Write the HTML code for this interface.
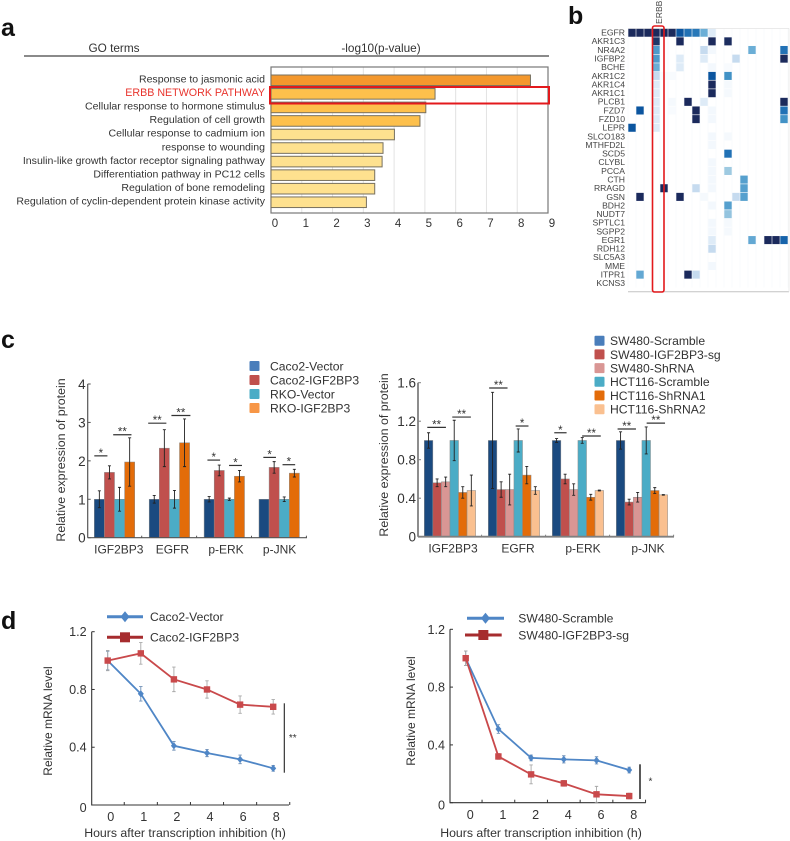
<!DOCTYPE html>
<html lang="en">
<head>
<meta charset="utf-8">
<title>Figure panels</title>
<style>
html,body{margin:0;padding:0;background:#fff;}
#figure{display:block;width:790px;height:841px;font-family:"Liberation Sans",sans-serif;filter:blur(.3px);}
text{font-family:"Liberation Sans",sans-serif;}
</style>
</head>
<body>
<svg id="figure" xmlns="http://www.w3.org/2000/svg" width="790" height="841" viewBox="0 0 790 841">
  <text x="1" y="36" font-size="25" font-weight="bold" fill="#111">a</text>
  <text x="568" y="24" font-size="25" font-weight="bold" fill="#111">b</text>
  <text x="1" y="348" font-size="25" font-weight="bold" fill="#111">c</text>
  <text x="1" y="629" font-size="25" font-weight="bold" fill="#111">d</text>

  <g id="panelA">
    <text x="114" y="52" font-size="11.8" text-anchor="middle" fill="#333">GO terms</text>
    <text x="381" y="52" font-size="11.8" text-anchor="middle" fill="#333">-log10(p-value)</text>
    <line x1="24" y1="56" x2="549" y2="56" stroke="#444" stroke-width="1.2"/>
  </g>
  <g id="panelB"></g>
  <g id="panelCLeft"></g>
  <g id="panelCRight"></g>
  <g id="panelDLeft"></g>
  <g id="panelDRight"></g>
</svg>

<script>
/* ---------- Panel a data ---------- */
const goTerms = ["Response to jasmonic acid","ERBB NETWORK PATHWAY","Cellular response to hormone stimulus","Regulation of cell growth","Cellular response to cadmium ion","response to wounding","Insulin-like growth factor receptor signaling pathway","Differentiation pathway in PC12 cells","Regulation of bone remodeling","Regulation of cyclin-dependent protein kinase activity"];
const goValues = [8.43,5.33,5.03,4.84,4.01,3.64,3.61,3.37,3.37,3.10];
const goTicks = [0,1,2,3,4,5,6,7,8,9];

/* ---------- Panel b data ---------- */
const heatGenes = ["EGFR","AKR1C3","NR4A2","IGFBP2","BCHE","AKR1C2","AKR1C4","AKR1C1","PLCB1","FZD7","FZD10","LEPR","SLCO183","MTHFD2L","SCD5","CLYBL","PCCA","CTH","RRAGD","GSN","BDH2","NUDT7","SPTLC1","SGPP2","EGR1","RDH12","SLC5A3","MME","ITPR1","KCNS3"];
const heatValues = [
 [1,1,1,1,1,1,.8,.7,.68,.5,.15,0,0,0,0,0,0,0,0,0],
 [0,0,0,.92,0,0,1,0,0,0,1,0,.98,0,0,0,0,0,0,0],
 [0,0,0,.57,0,0,0,0,0,.25,.05,0,0,0,0,.5,0,0,0,.7],
 [0,0,0,.57,0,0,.15,0,0,.15,0,0,0,.25,0,0,0,0,0,1],
 [0,0,0,.5,0,0,.15,0,0,0,.05,0,.03,0,0,0,0,0,0,0],
 [0,0,0,.25,.03,.03,0,0,0,0,.8,0,.6,0,0,0,0,0,0,0],
 [0,0,0,.15,0,0,0,0,0,0,1,0,.04,0,0,0,0,0,0,0],
 [0,0,0,.15,0,0,0,0,0,0,1,0,.04,0,0,0,0,0,0,0],
 [0,0,0,.15,0,.04,0,1,0,.15,0,0,0,0,0,0,0,0,0,1],
 [0,.8,0,.15,0,.03,0,0,1,0,.05,0,0,0,0,0,0,0,0,.7],
 [0,0,0,.15,0,0,0,0,1,0,.05,0,0,0,0,0,0,0,0,.6],
 [.8,0,0,.15,0,0,0,0,0,0,0,0,0,0,0,0,0,0,0,0],
 [0,0,0,0,0,0,0,0,0,0,.05,0,.04,0,0,0,0,0,0,0],
 [0,0,0,0,0,0,0,0,0,0,.05,0,0,0,0,0,0,0,0,0],
 [0,0,0,0,0,0,0,0,0,0,0,0,.7,0,0,0,0,0,0,0],
 [0,0,0,0,0,0,0,0,0,0,.05,0,0,0,0,0,0,0,0,0],
 [0,0,0,0,0,0,0,0,0,0,.05,0,.4,0,0,0,0,0,0,0],
 [0,0,0,0,0,0,0,0,0,0,.05,0,0,0,.55,0,0,0,0,0],
 [0,0,0,0,1,0,0,0,.25,0,.05,0,0,0,.55,0,0,0,0,0],
 [0,1,0,0,0,0,1,0,0,.04,0,0,0,.25,.55,0,0,0,0,0],
 [0,0,0,0,0,0,0,0,0,0,.05,0,.55,0,0,0,0,0,0,0],
 [0,0,0,0,0,0,0,0,0,0,0,0,.42,0,0,0,0,0,0,0],
 [0,0,0,0,0,0,0,0,0,0,.05,0,.04,0,0,0,0,0,0,0],
 [0,0,0,0,0,0,0,0,0,0,.05,0,.04,0,0,0,0,0,0,0],
 [0,0,0,0,0,0,0,0,0,0,.15,0,0,0,0,.52,0,1,1,.75],
 [0,0,0,0,0,0,0,0,0,0,.25,0,0,0,0,0,0,0,0,0],
 [0,0,0,0,0,0,0,0,0,0,0,0,0,0,0,0,0,0,0,0],
 [0,0,0,0,0,0,0,0,0,0,.05,0,0,0,0,0,0,0,0,0],
 [0,.52,0,0,0,0,0,1,.25,0,0,0,0,0,0,0,0,0,0,0],
 [0,0,0,0,0,0,0,0,0,0,0,0,0,0,0,0,0,0,0,0]
];

/* ---------- Panel c left data ---------- */
const cLeftCategories = ["IGF2BP3","EGFR","p-ERK","p-JNK"];
const cLeftSeriesNames = ["Caco2-Vector","Caco2-IGF2BP3","RKO-Vector","RKO-IGF2BP3"];
const cLeftCaco2Vector = [1,1,1,1];
const cLeftCaco2Igf = [1.7,2.33,1.75,1.83];
const cLeftRkoVector = [1,1,1,1];
const cLeftRkoIgf = [1.97,2.47,1.6,1.68];
const cLeftErrCaco2Vector = [.22,.1,.07,0];
const cLeftErrCaco2Igf = [.17,.48,.14,.15];
const cLeftErrRkoVector = [.31,.23,.03,.06];
const cLeftErrRkoIgf = [.63,.62,.15,.1];
const cLeftTicks = [0,1,2,3,4];
const cLeftSigCategory = [0,0,1,1,2,2,3,3];
const cLeftSigFromBar = [0,1.87,-.1,2.2,.33,2.47,.43,2.33];
const cLeftSigToBar = [1.3,3.68,1.7,4.08,1.58,3.75,1.68,3.58];
const cLeftSigLevel = [2.13,2.68,2.98,3.18,2.02,1.88,2.09,1.9];
const cLeftSigMarks = ["*","**","**","**","*","*","*","*"];

/* ---------- Panel c right data ---------- */
const cRightCategories = ["IGF2BP3","EGFR","p-ERK","p-JNK"];
const cRightSeriesNames = ["SW480-Scramble","SW480-IGF2BP3-sg","SW480-ShRNA","HCT116-Scramble","HCT116-ShRNA1","HCT116-ShRNA2"];
const cRightSwScramble = [1,1,1,1];
const cRightSwSg = [.56,.49,.6,.36];
const cRightSwSh = [.57,.49,.49,.41];
const cRightHctScramble = [1,1,1,1];
const cRightHctSh1 = [.46,.64,.41,.48];
const cRightHctSh2 = [.48,.48,.48,.435];
const cRightErrSwScramble = [.08,.5,.02,.09];
const cRightErrSwSg = [.04,.08,.05,.03];
const cRightErrSwSh = [.05,.16,.06,.05];
const cRightErrHctScramble = [.21,.12,.03,.14];
const cRightErrHctSh1 = [.06,.09,.03,.03];
const cRightErrHctSh2 = [.16,.04,.005,.003];
const cRightTicks = [0,.4,.8,1.2,1.6];
const cRightTickLabels = ["0","0.4","0.8","1.2","1.6"];
const cRightSigCategory = [0,0,1,1,2,2,3,3];
const cRightSigFromBar = [.35,3.27,.1,3.2,.23,3.49,.15,3.55];
const cRightSigToBar = [2.53,5.45,2.25,4.7,1.67,5.67,2.3,5.7];
const cRightSigLevel = [1.136,1.243,1.545,1.15,1.08,1.046,1.119,1.18];
const cRightSigMarks = ["**","**","**","*","*","**","**","**"];

/* ---------- Panel d data ---------- */
const dHours = ["0","1","2","4","6","8"];
const dTicks = [0,.4,.8,1.2];
const dTickLabels = ["0","0.4","0.8","1.2"];
const dLeftVector = [1,.77,.41,.36,.316,.254];
const dLeftIgf = [1,1.05,.87,.8,.695,.68];
const dLeftVectorErr = [.065,.05,.03,.025,.03,.02];
const dLeftIgfErr = [.07,.075,.085,.06,.06,.05];
const dRightScramble = [1,.51,.31,.3,.293,.226];
const dRightSg = [1,.32,.196,.134,.058,.046];
const dRightScrambleErr = [.05,.03,.02,.025,.025,.02];
const dRightSgErr = [.05,.02,.065,.02,.055,.02];

/* ---------- helpers ---------- */
const NS = "http://www.w3.org/2000/svg";
function make(parent, tag, attrs, content) {
  const el = document.createElementNS(NS, tag);
  for (const k in attrs) el.setAttribute(k, attrs[k]);
  if (content !== undefined) el.textContent = content;
  parent.appendChild(el);
  return el;
}
function slug(s) { return String(s).toLowerCase().replace(/[^a-z0-9]+/g, "-").replace(/^-|-$/g, ""); }

/* ---------- Panel a ---------- */
(function () {
  const g = document.getElementById("panelA");
  const x0 = 271, x1 = 548, top = 67, bottom = 213;
  const xScale = v => x0 + (x1 - x0) * v / 9;
  const bandY = i => 75 + i * 13.55;
  goTicks.forEach(t => {
    const grid = make(g, "line", {x1:xScale(t),x2:xScale(t),y1:top,y2:bottom,stroke:"#e2e2e2","stroke-width":1});
    
    
    const lab = make(g, "text", {x:xScale(t)+4,y:227,"font-size":11.5,"text-anchor":"middle",fill:"#333"}, t);
    
    
  });
  const box = make(g, "rect", {x:x0,y:top,width:x1-x0,height:bottom-top,fill:"none",stroke:"#777","stroke-width":1.2});
  
  
  goValues.forEach((v, i) => {
    const fill = v >= 8 ? "#f4982d" : v >= 4.5 ? "#fdc04c" : "#fee18f";
    const bar = make(g, "rect", {x:x0,y:bandY(i),width:xScale(v)-x0,height:10.6,fill:fill,stroke:"#77705f","stroke-width":1});
    
    
    const lab = make(g, "text", {x:265,y:bandY(i)+7.5,"font-size":i===1?10.7:10.55,"text-anchor":"end",fill:i===1?"#e8352e":"#333"}, goTerms[i]);
    
    
  });
  const hl = make(g, "rect", {x:270,y:87,width:279,height:16.5,fill:"none",stroke:"#e3191c","stroke-width":2});
  
  
})();

/* ---------- Panel b ---------- */
(function () {
  const g = document.getElementById("panelB");
  const left = 628, top = 28.4, cw = 8, rh = 8.64;
  const stops = [[0,[255,255,255]],[.05,[243,248,253]],[.15,[222,235,247]],[.25,[198,219,239]],[.4,[158,202,225]],[.5,[107,174,214]],[.6,[66,146,198]],[.7,[33,113,181]],[.8,[11,85,159]],[.92,[29,55,104]],[1,[27,42,92]]];
  function color(v) {
    for (let i = 1; i < stops.length; i++) {
      if (v <= stops[i][0]) {
        const a = stops[i-1], b = stops[i], t = (v - a[0]) / (b[0] - a[0]);
        return "rgb(" + a[1].map((c, k) => Math.round(c + (b[1][k] - c) * t)).join(",") + ")";
      }
    }
    return "rgb(27,42,92)";
  }
  const colCount = heatValues[0].length;
  for (let c = 0; c <= colCount; c++) {
    const gl = make(g, "line", {x1:left+c*cw,x2:left+c*cw,y1:top,y2:top+rh*heatGenes.length,stroke:"#f6f8fb","stroke-width":.6});
    
    
  }
  heatGenes.forEach((gene, r) => {
    const lab = make(g, "text", {x:625,y:top+r*rh+7.2,"font-size":8.6,"text-anchor":"end",fill:"#444"}, gene);
    
    
    heatValues[r].forEach((v, c) => {
      if (!v) return;
      const cell = make(g, "rect", {x:left+c*cw+.3,y:top+r*rh+.3,width:cw-.6,height:rh-.6,fill:color(v)});
      
      
    });
  });
  const rule = make(g, "line", {x1:left,x2:789,y1:291.7,y2:291.7,stroke:"#c4c4c4","stroke-width":1});
  
  
  const topRule = make(g, "line", {x1:left,x2:789,y1:28.4,y2:28.4,stroke:"#e4e4e4","stroke-width":.8});
  
  
  const right = make(g, "line", {x1:789,x2:789,y1:28.4,y2:291.7,stroke:"#e8e8e8","stroke-width":.8});
  
  
  const erbb = make(g, "text", {transform:"translate(662,24) rotate(-90)","font-size":8.6,fill:"#444"}, "ERBB");
  
  
  const box = make(g, "rect", {x:652.5,y:26,width:11.5,height:266,rx:2,fill:"none",stroke:"#e3191c","stroke-width":1.6});
  
  
})();

/* ---------- Panel c ---------- */
function drawBars(cfg) {
  const g = document.getElementById(cfg.id);
  const y = v => cfg.y0 - (cfg.y0 - cfg.yTop) * v / cfg.yMax;
  const barX = (cat, b) => cfg.x0 + cat * cfg.groupStep + b * cfg.barW;
  const axisY = make(g, "line", {x1:cfg.axisX,x2:cfg.axisX,y1:cfg.yTop,y2:cfg.y0,stroke:cfg.axisColor,"stroke-width":cfg.axisW});
  
  
  cfg.ticks.forEach((t, i) => {
    const tk = make(g, "line", {x1:cfg.axisX,x2:cfg.axisX+3,y1:y(t),y2:y(t),stroke:cfg.axisColor,"stroke-width":1});
    
    
    const lab = make(g, "text", {x:cfg.axisX-2,y:y(t)+5,"font-size":13.5,"text-anchor":"end",fill:"#333"}, cfg.tickLabels[i]);
    
    
  });
  cfg.series.forEach((vals, s) => {
    vals.forEach((v, c) => {
      const bar = make(g, "rect", {x:barX(c,s),y:y(v),width:cfg.barW,height:cfg.y0-y(v),fill:cfg.barColors[s],stroke:"#8a8a8a","stroke-width":.5});
      
      
    });
  });
  cfg.series.forEach((vals, s) => {
    vals.forEach((v, c) => {
      const e = cfg.errors[s][c];
      if (e <= 0) return;
      const cx = barX(c,s) + cfg.barW/2;
      const stem = make(g, "path", {d:"M"+cx+" "+y(v+e)+"V"+y(v-e)+"M"+(cx-1.5)+" "+y(v+e)+"h3M"+(cx-1.5)+" "+y(v-e)+"h3",fill:"none",stroke:"#222","stroke-width":.9});
      
      
    });
  });
  const axisX = make(g, "line", {x1:cfg.axisX,x2:cfg.axisEnd,y1:cfg.y0,y2:cfg.y0,stroke:cfg.axisColor,"stroke-width":cfg.axisW});
  
  
  cfg.categories.forEach((name, c) => {
    const lab = make(g, "text", {x:cfg.labelFirst+c*cfg.labelStep,y:cfg.y0+16,"font-size":12,"text-anchor":"middle",fill:"#333"}, name);
    
    
    const tk = make(g, "line", {x1:barX(c,cfg.series.length)+cfg.tickGap,x2:barX(c,cfg.series.length)+cfg.tickGap,y1:cfg.y0-2,y2:cfg.y0,stroke:cfg.axisColor,"stroke-width":1});
    
    
  });
  cfg.sigCategory.forEach((c, i) => {
    const x1 = barX(c, cfg.sigFrom[i]), x2 = barX(c, cfg.sigTo[i]), yy = y(cfg.sigLevel[i]);
    const ln = make(g, "line", {x1:x1,x2:x2,y1:yy,y2:yy,stroke:"#333","stroke-width":1.2});
    
    
    const st = make(g, "text", {x:(x1+x2)/2,y:yy+1,"font-size":11.5,"text-anchor":"middle",fill:"#333"}, cfg.sigMarks[i]);
    
    
  });
  const yt = make(g, "text", {transform:"translate("+cfg.yLabelX+","+cfg.yLabelY+") rotate(-90)","font-size":12.4,"text-anchor":"middle",fill:"#333"}, "Relative expression of protein");
  
  
  cfg.seriesNames.forEach((name, s) => {
    const sw = make(g, "rect", {x:cfg.legendX,y:cfg.legendY+s*cfg.legendStep-5,width:10,height:10,rx:1,fill:cfg.legendColors[s]});
    
    
    const tx = make(g, "text", {x:cfg.legendX+cfg.legendTextGap,y:cfg.legendY+s*cfg.legendStep+4.4,"font-size":12.15,fill:"#333"}, name);
    
    
  });
}
drawBars({
  id:"panelCLeft", x0:94.3, groupStep:54.9, barW:10.1, y0:537.7, yTop:384, yMax:4, axisX:87.7, axisEnd:307, axisColor:"#555", axisW:1.2,
  ticks:cLeftTicks, tickLabels:cLeftTicks.map(String), categories:cLeftCategories, seriesNames:cLeftSeriesNames,
  series:[cLeftCaco2Vector,cLeftCaco2Igf,cLeftRkoVector,cLeftRkoIgf],
  errors:[cLeftErrCaco2Vector,cLeftErrCaco2Igf,cLeftErrRkoVector,cLeftErrRkoIgf],
  barColors:["#1a4a80","#c0504d","#4bacc6","#e36c09"], legendColors:["#4a7ebb","#c0504d","#4bacc6","#f79646"],
  labelFirst:118.8, labelStep:53.6, tickGap:7, sigCategory:cLeftSigCategory, sigFrom:cLeftSigFromBar, sigTo:cLeftSigToBar, sigLevel:cLeftSigLevel, sigMarks:cLeftSigMarks,
  yLabelX:65, yLabelY:460, legendX:249.5, legendY:366, legendStep:14, legendTextGap:20.5
});
drawBars({
  id:"panelCRight", x0:424.3, groupStep:64, barW:8.55, y0:536.7, yTop:382.7, yMax:1.6, axisX:418, axisEnd:674, axisColor:"#808080", axisW:1.8,
  ticks:cRightTicks, tickLabels:cRightTickLabels, categories:cRightCategories, seriesNames:cRightSeriesNames,
  series:[cRightSwScramble,cRightSwSg,cRightSwSh,cRightHctScramble,cRightHctSh1,cRightHctSh2],
  errors:[cRightErrSwScramble,cRightErrSwSg,cRightErrSwSh,cRightErrHctScramble,cRightErrHctSh1,cRightErrHctSh2],
  barColors:["#1a4a80","#c0504d","#d99694","#4bacc6","#e36c09","#fac090"], legendColors:["#4a7ebb","#c0504d","#d99694","#4bacc6","#e36c09","#fac090"],
  labelFirst:453, labelStep:65, tickGap:6, sigCategory:cRightSigCategory, sigFrom:cRightSigFromBar, sigTo:cRightSigToBar, sigLevel:cRightSigLevel, sigMarks:cRightSigMarks,
  yLabelX:388, yLabelY:455, legendX:594.5, legendY:340.7, legendStep:13.7, legendTextGap:15.5
});

/* ---------- Panel d ---------- */
function drawLines(cfg) {
  const g = document.getElementById(cfg.id);
  const y = v => cfg.y0 - (cfg.y0 - cfg.yTop) * v / 1.2;
  const x = i => cfg.xFirst + i * cfg.xStep;
  const ax = make(g, "path", {d:"M"+cfg.axisX+" "+cfg.yTop+"V"+cfg.y0+"H"+cfg.axisEnd,fill:"none",stroke:"#333","stroke-width":1.1});
  
  
  dTicks.forEach((t, i) => {
    const tk = make(g, "line", {x1:cfg.axisX,x2:cfg.axisX+3,y1:y(t),y2:y(t),stroke:"#333","stroke-width":1});
    
    
    const lab = make(g, "text", {x:cfg.axisX-5,y:y(t)+(t===0?7:4.5),"font-size":12.6,"text-anchor":"end",fill:"#333"}, dTickLabels[i]);
    
    
  });
  dHours.forEach((h, i) => {
    const tk = make(g, "line", {x1:x(i)+cfg.xStep/2,x2:x(i)+cfg.xStep/2,y1:cfg.y0,y2:cfg.y0-3,stroke:"#333","stroke-width":1});
    
    
    const lab = make(g, "text", {x:x(i)+cfg.labelShift,y:cfg.tickY,"font-size":12.6,"text-anchor":"middle",fill:"#333"}, h);
    
    
  });
  cfg.series.forEach((s, k) => {
    s.values.forEach((v, i) => {
      const e = s.errors[i], cx = x(i);
      const err = make(g, "path", {d:"M"+cx+" "+y(v+e)+"V"+y(v-e)+"M"+(cx-1.7)+" "+y(v+e)+"h3.4M"+(cx-1.7)+" "+y(v-e)+"h3.4",fill:"none",stroke:k===0?"#6f8fb5":"#a8a8a8","stroke-width":.9});
      
      
    });
    const line = make(g, "polyline", {points:s.values.map((v, i) => x(i)+","+y(v)).join(" "),fill:"none",stroke:s.color,"stroke-width":1.8});
    
    
    s.values.forEach((v, i) => {
      let pt;
      if (k === 0) {
        pt = make(g, "path", {d:"M"+x(i)+" "+(y(v)-3.6)+"l3 3.6l-3 3.6l-3 -3.6z",fill:s.color});
      } else {
        pt = make(g, "rect", {x:x(i)-3.2,y:y(v)-3.2,width:6.4,height:6.4,fill:s.color});
      }
      
      
    });
  });
  const sig = make(g, "line", {x1:cfg.sigX,x2:cfg.sigX,y1:cfg.sigTop,y2:cfg.sigBottom,stroke:"#222","stroke-width":cfg.sigW});
  
  
  const star = make(g, "text", {x:cfg.sigX+cfg.starGap,y:(cfg.sigTop+cfg.sigBottom)/2+3,"font-size":10,"text-anchor":"middle",fill:"#333"}, cfg.star);
  
  
  const yt = make(g, "text", {transform:"translate("+cfg.yLabelX+","+cfg.yLabelY+") rotate(-90)","font-size":12,"text-anchor":"middle",fill:"#333"}, "Relative mRNA level");
  
  
  const xt = make(g, "text", {x:cfg.xLabelX,y:cfg.xLabelY,"font-size":12.3,"text-anchor":"middle",fill:"#333"}, "Hours after transcription inhibition (h)");
  
  
  cfg.series.forEach((s, k) => {
    const lg = cfg.legend[k];
    const ll = make(g, "line", {x1:lg.x1,x2:lg.x2,y1:lg.y,y2:lg.y,stroke:lg.color,"stroke-width":3});
    
    
    const cx = (lg.x1 + lg.x2) / 2;
    let mk;
    if (k === 0) {
      mk = make(g, "path", {d:"M"+cx+" "+(lg.y-5.5)+"l4.5 5.5l-4.5 5.5l-4.5 -5.5z",fill:lg.color});
    } else {
      mk = make(g, "rect", {x:cx-5,y:lg.y-5,width:10,height:10,fill:lg.color});
    }
    
    
    const tx = make(g, "text", {x:cfg.legendTextX,y:lg.y+4.4,"font-size":12.15,fill:"#333"}, s.name);
    
    
  });
}
drawLines({
  id:"panelDLeft", axisX:91.7, axisEnd:289, y0:805, yTop:631.7, xFirst:107.7, xStep:33.1, labelShift:3, tickY:821,
  series:[
    {name:"Caco2-Vector",values:dLeftVector,errors:dLeftVectorErr,color:"#4f86c6"},
    {name:"Caco2-IGF2BP3",values:dLeftIgf,errors:dLeftIgfErr,color:"#c9494b"}
  ],
  sigX:284.3, sigTop:703.3, sigBottom:772.7, sigW:1.1, starGap:8.5, star:"**",
  yLabelX:52, yLabelY:721, xLabelX:185, xLabelY:837,
  legend:[{x1:107,x2:143,y:616.7,color:"#4f86c6"},{x1:107,x2:143,y:637.3,color:"#a62c2e"}], legendTextX:150
});
drawLines({
  id:"panelDRight", axisX:450, axisEnd:645.7, y0:802.7, yTop:629.3, xFirst:465.7, xStep:32.7, labelShift:4.5, tickY:819,
  series:[
    {name:"SW480-Scramble",values:dRightScramble,errors:dRightScrambleErr,color:"#4f86c6"},
    {name:"SW480-IGF2BP3-sg",values:dRightSg,errors:dRightSgErr,color:"#c9494b"}
  ],
  sigX:640, sigTop:764.3, sigBottom:799, sigW:1.5, starGap:10.5, star:"*",
  yLabelX:415, yLabelY:711, xLabelX:541, xLabelY:837,
  legend:[{x1:467,x2:504,y:618.3,color:"#4f86c6"},{x1:465,x2:501.7,y:635,color:"#a62c2e"}], legendTextX:518.3
});
</script>
</body>
</html>
